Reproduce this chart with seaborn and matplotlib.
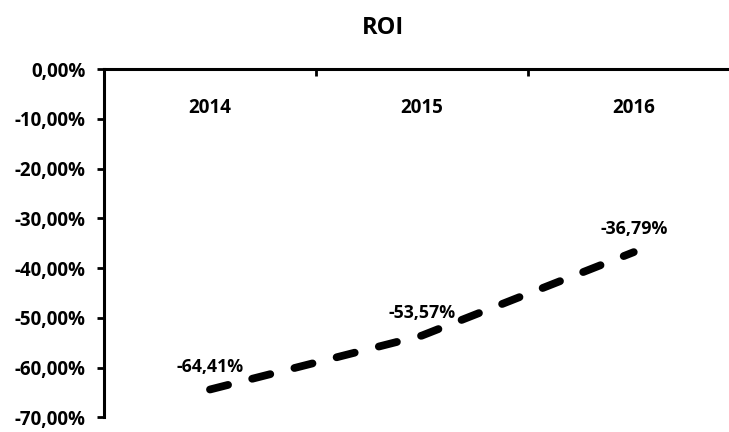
import matplotlib
matplotlib.use("Agg")
import matplotlib.pyplot as plt
import seaborn as sns

years = ["2014", "2015", "2016"]
roi = [-64.41, -53.57, -36.79]
y_ticks = [0, -10, -20, -30, -40, -50, -60, -70]

sns.set_theme(style="white")
plt.rcParams["font.family"] = ["Open Sans", "DejaVu Sans"]
plt.rcParams["font.weight"] = "bold"
plt.rcParams["text.color"] = "black"
plt.rcParams["xtick.color"] = "black"
plt.rcParams["ytick.color"] = "black"

fig = plt.figure(figsize=(7.29, 4.32), dpi=100)
ax = fig.add_axes([0.1427, 0.034, 0.872, 0.806])

x = list(range(len(years)))
sns.lineplot(x=x, y=roi, ax=ax, color="black", linewidth=5.6,
             linestyle=(0, (2.4, 3.2)), dash_capstyle="round")

# data labels
for xi, v in zip(x, roi):
    ax.annotate(f"{v:.2f}%".replace(".", ","), (xi, v), xytext=(0, 10),
                textcoords="offset points", ha="center", va="bottom",
                fontsize=12.8, fontweight="bold", color="black")

ax.set_xlim(-0.5, 2.5)
ax.set_ylim(-70, 0)

# category labels hang under the top axis line
ax.set_xticks(x)
ax.set_xticklabels(years, fontsize=13.5, fontweight="bold")
ax.tick_params(axis="x", which="major", length=0, top=True, bottom=False,
               labeltop=True, labelbottom=False, pad=-35, labelcolor="black")
ax.set_xticks([0.5, 1.5], minor=True)
ax.tick_params(axis="x", which="minor", top=True, bottom=False,
               direction="in", length=5, width=2, color="black")

ax.set_yticks(y_ticks)
ax.set_yticklabels([f"{t:.2f}%".replace(".", ",") for t in y_ticks],
                   fontsize=13.5, fontweight="bold")
ax.tick_params(axis="y", left=True, direction="out", length=5, width=2,
               color="black", pad=8, labelcolor="black")

for side in ["right", "bottom"]:
    ax.spines[side].set_visible(False)
for side in ["left", "top"]:
    ax.spines[side].set_color("black")
    ax.spines[side].set_linewidth(2.2)

fig.text(0.525, 0.935, "ROI", ha="center", va="center", fontsize=17,
         fontweight="bold", color="black")

fig.savefig("out.png", dpi=100)
